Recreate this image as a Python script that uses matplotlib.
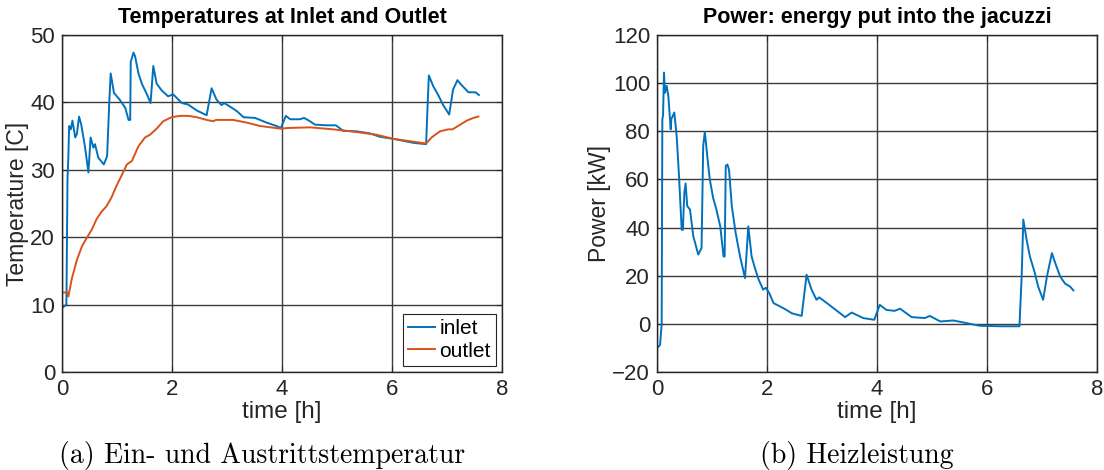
import numpy as np
import matplotlib.pyplot as plt

# Temperaturen (links)
t_inlet = [0.0, 0.08, 0.1, 0.115, 0.13, 0.16, 0.19, 0.24, 0.27, 0.31, 0.35, 0.42, 0.48,
           0.52, 0.57, 0.6, 0.66, 0.76, 0.82, 0.86, 0.885, 0.945, 1.04, 1.15, 1.21, 1.24,
           1.25, 1.3, 1.33, 1.39, 1.45, 1.55, 1.61, 1.66, 1.72, 1.81, 1.93, 2.02, 2.18,
           2.29, 2.45, 2.63, 2.72, 2.81, 2.9, 2.95, 3.05, 3.18, 3.3, 3.51, 3.72, 3.9, 3.98,
           4.07, 4.15, 4.33, 4.4, 4.49, 4.6, 4.81, 4.98, 5.11, 5.36, 5.6, 5.78, 6.02, 6.39,
           6.62, 6.65, 6.67, 6.75, 6.84, 6.93, 7.04, 7.11, 7.19, 7.25, 7.39, 7.52, 7.58]
T_inlet = [9.5, 10.0, 28.7, 31.8, 36.5, 36.0, 37.3, 34.8, 35.3, 37.9, 36.7, 33.3, 29.6,
           34.8, 33.3, 33.8, 31.8, 30.8, 32.0, 40.1, 44.3, 41.4, 40.5, 39.2, 37.4, 37.4,
           46.0, 47.4, 46.8, 44.3, 42.8, 41.1, 39.9, 45.4, 42.8, 41.8, 40.9, 41.2, 39.9,
           39.7, 38.8, 38.1, 42.1, 40.4, 39.6, 39.9, 39.4, 38.7, 37.8, 37.7, 37.0, 36.5, 36.2,
           38.0, 37.5, 37.5, 37.7, 37.3, 36.7, 36.6, 36.6, 35.8, 35.7, 35.4, 34.9, 34.6, 34.0,
           33.8, 40.1, 44.0, 42.4, 41.1, 39.6, 38.2, 41.9, 43.3, 42.7, 41.5, 41.5, 41.1]

t_outlet = [0.0, 0.1, 0.115, 0.18, 0.27, 0.36, 0.45, 0.54, 0.63, 0.72, 0.81, 0.9, 0.99,
            1.11, 1.18, 1.27, 1.39, 1.51, 1.6, 1.72, 1.84, 1.99, 2.15, 2.3, 2.45, 2.63,
            2.75, 2.8, 3.11, 3.36, 3.6, 3.98, 4.1, 4.51, 4.93, 5.36, 5.72, 6.02, 6.62,
            6.72, 6.87, 7.02, 7.1, 7.24, 7.36, 7.48, 7.57]
T_outlet = [11.8, 11.8, 11.2, 13.9, 16.6, 18.6, 19.9, 21.1, 22.7, 23.8, 24.6, 25.9, 27.6,
            29.6, 30.8, 31.3, 33.5, 34.8, 35.2, 36.1, 37.2, 37.8, 38.0, 38.0, 37.8, 37.4,
            37.2, 37.4, 37.4, 37.0, 36.5, 36.1, 36.2, 36.3, 36.0, 35.6, 35.2, 34.6, 33.9,
            34.8, 35.7, 36.0, 36.0, 36.7, 37.3, 37.7, 37.9]

# Heizleistung (rechts)
t_power = [0.0, 0.055, 0.085, 0.097, 0.11, 0.127, 0.145, 0.176, 0.206, 0.249, 0.26, 0.315,
           0.358, 0.4, 0.449, 0.47, 0.497, 0.52, 0.55, 0.6, 0.66, 0.75, 0.81, 0.84, 0.87,
           0.92, 0.96, 1.02, 1.08, 1.15, 1.21, 1.23, 1.25, 1.28, 1.31, 1.36, 1.43, 1.51,
           1.6, 1.66, 1.72, 1.78, 1.85, 1.93, 1.98, 2.04, 2.12, 2.24, 2.33, 2.45, 2.63,
           2.72, 2.81, 2.9, 2.95, 3.09, 3.21, 3.42, 3.54, 3.75, 3.95, 4.05, 4.17, 4.32, 4.42,
           4.63, 4.87, 4.96, 5.15, 5.39, 5.63, 5.87, 6.24, 6.59, 6.63, 6.66, 6.72, 6.78,
           6.87, 6.93, 7.02, 7.09, 7.18, 7.24, 7.33, 7.42, 7.51, 7.57]
P_power = [-10.1, -8.8, 0.0, 85.0, 86.5, 104.4, 96.0, 98.9, 94.7, 80.8, 85.0, 87.8,
           78.0, 61.4, 39.2, 39.0, 54.4, 58.3, 48.9, 47.5, 36.4, 28.8, 31.5, 73.9, 79.7,
           68.3, 60.0, 52.4, 47.5, 40.5, 28.0, 28.0, 65.6, 66.2, 64.0, 48.9, 37.8, 28.0,
           19.0, 40.5, 28.0, 23.2, 18.3, 14.2, 15.0, 12.8, 8.6, 7.2, 6.1, 4.4, 3.3,
           20.4, 14.2, 10.0, 11.0, 8.6, 6.5, 2.8, 4.7, 2.4, 1.7, 7.9, 5.8, 5.4, 6.3,
           2.8, 2.4, 3.3, 1.0, 1.4, 0.3, -0.8, -1.0, -1.0, 19.7, 43.3, 35.0, 28.0,
           21.1, 15.5, 10.0, 19.7, 29.4, 25.3, 19.7, 16.7, 15.5, 13.9]

blau = '#0072BD'
orange = '#D95319'

plt.rcParams['font.family'] = ['Liberation Sans', 'DejaVu Sans']
plt.rcParams['xtick.direction'] = 'in'
plt.rcParams['ytick.direction'] = 'in'

fig = plt.figure(figsize=(11.04, 4.70), dpi=100)
ax1 = fig.add_axes([62 / 1104, 98 / 470, 440 / 1104, 337 / 470])
ax2 = fig.add_axes([657 / 1104, 98 / 470, 440 / 1104, 337 / 470])


def style(ax):
    ax.grid(True, color='#3c3c3c', linewidth=1.0)
    ax.set_axisbelow(True)
    for s in ax.spines.values():
        s.set_color('#262626')
        s.set_linewidth(1.0)
    ax.tick_params(labelsize=16, colors='#262626', length=4, top=True, right=True, pad=5)
    ax.set_xlim(0, 8)
    ax.set_xticks([0, 2, 4, 6, 8])
    ax.set_xlabel('time [h]', fontsize=17.5, color='#262626', labelpad=1)


ax1.plot(t_inlet, T_inlet, color=blau, linewidth=1.4, label='inlet')
ax1.plot(t_outlet, T_outlet, color=orange, linewidth=1.4, label='outlet')
style(ax1)
ax1.set_ylim(0, 50)
ax1.set_yticks(np.arange(0, 51, 10))
ax1.set_ylabel('Temperature [C]', fontsize=16.5, color='#262626', labelpad=1)
ax1.set_title('Temperatures at Inlet and Outlet', fontsize=15.5, fontweight='bold', pad=9)
leg = ax1.legend(loc='lower right', fontsize=15, fancybox=False, edgecolor='#262626',
                 handlelength=1.3, handletextpad=0.2, borderpad=0.25, labelspacing=0.15,
                 borderaxespad=0.3, framealpha=1)
leg.get_frame().set_linewidth(0.8)

ax2.plot(t_power, P_power, color=blau, linewidth=1.4)
style(ax2)
ax2.set_ylim(-20, 120)
ax2.set_yticks(np.arange(-20, 121, 20))
ax2.set_ylabel('Power [kW]', fontsize=16.5, color='#262626', labelpad=1)
ax2.set_title('Power: energy put into the jacuzzi', fontsize=15.5, fontweight='bold', pad=9)

# Unterschriften
fig.text(262 / 1104, 1 - 455 / 470, '(a) Ein- und Austrittstemperatur', family='cmr10',
         fontsize=20, ha='center', va='center')
fig.text(857 / 1104, 1 - 455 / 470, '(b) Heizleistung', family='cmr10',
         fontsize=20, ha='center', va='center')

fig.savefig('out.png', dpi=100)
